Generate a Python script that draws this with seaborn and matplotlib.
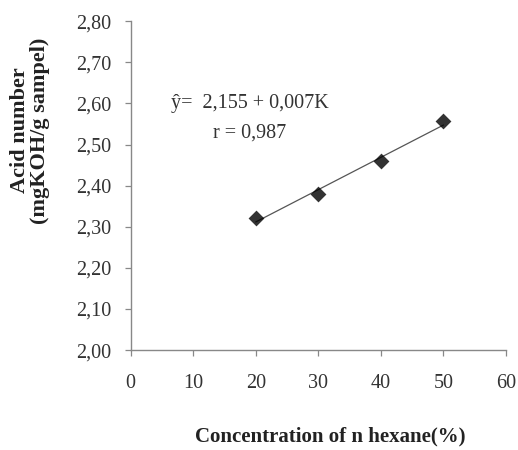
import numpy as np
import pandas as pd
import seaborn as sns
import matplotlib
matplotlib.use("Agg")
import matplotlib.pyplot as plt
from matplotlib.ticker import FuncFormatter

concentration = [20, 30, 40, 50]
acid_number = [2.322, 2.379, 2.460, 2.557]
x_ticks = [0, 10, 20, 30, 40, 50, 60]
y_ticks = [2.00, 2.10, 2.20, 2.30, 2.40, 2.50, 2.60, 2.70, 2.80]
equation_text = "ŷ=  2,155 + 0,007K"
r_text = "r = 0,987"
x_label = "Concentration of n hexane(%)"
y_label = "Acid number\n(mgKOH/g sampel)"

df = pd.DataFrame({"x": concentration, "y": acid_number})

sns.set_theme(style="ticks")
plt.rcParams["font.family"] = ["Liberation Serif", "DejaVu Serif"]

fig = plt.figure(figsize=(5.18, 4.5), dpi=100)
ax = fig.add_axes([0.252, 0.222, 0.725, 0.731])

sns.regplot(data=df, x="x", y="y", ci=None, ax=ax, marker="D",
            scatter_kws=dict(s=65, color="black", zorder=3, linewidths=0),
            line_kws=dict(color="#555555", lw=0.9))

ax.set_xlim(0, 60)
ax.set_ylim(2.0, 2.8)
ax.set_xticks(x_ticks)
ax.set_yticks(y_ticks)
ax.yaxis.set_major_formatter(FuncFormatter(lambda v, p: f"{v:.2f}".replace(".", ",")))
ax.xaxis.set_major_formatter(FuncFormatter(lambda v, p: f"{v:.0f}"))
ax.tick_params(axis="both", labelsize=14.5, length=4, width=0.9, color="#888888",
               direction="out", labelcolor="#333333")
ax.tick_params(axis="x", pad=13)
ax.tick_params(axis="y", pad=10)
for s in ["top", "right"]:
    ax.spines[s].set_visible(False)
for s in ["left", "bottom"]:
    ax.spines[s].set_color("#888888")
    ax.spines[s].set_linewidth(1.0)
ax.set_xlabel("")
ax.set_ylabel("")

ax.text(19.1, 2.60, equation_text, fontsize=14.5, ha="center", va="center", color="#333333")
ax.text(19.1, 2.527, r_text, fontsize=14.5, ha="center", va="center", color="#333333")

fig.text(0.637, 0.029, x_label, fontsize=15, fontweight="bold", ha="center", va="center",
         color="#222222")
fig.text(0.058, 0.71, y_label, fontsize=16, fontweight="bold", ha="center", va="center",
         rotation=90, color="#222222", linespacing=0.95)

fig.savefig("out.png", dpi=100, facecolor="white")
